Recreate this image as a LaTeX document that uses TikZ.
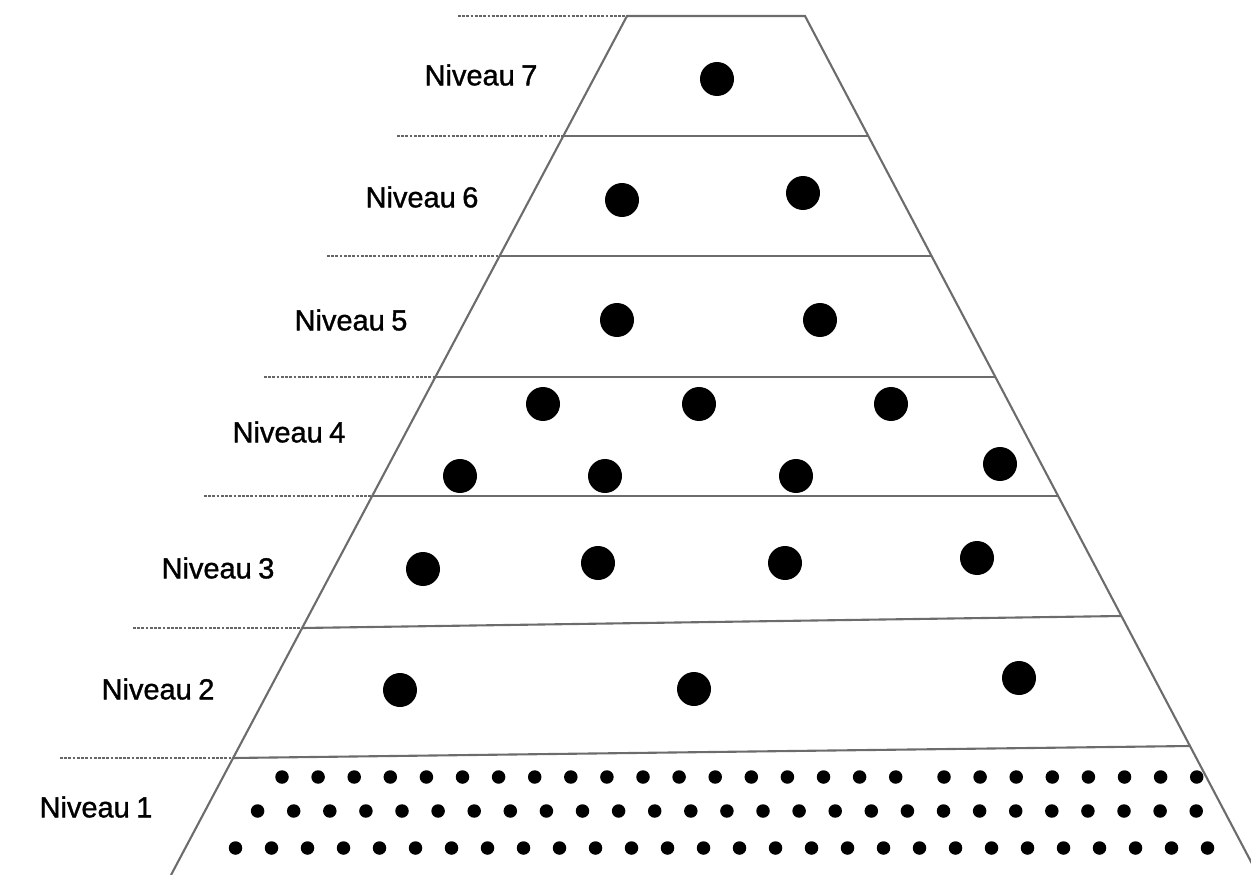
\documentclass[tikz,border=0pt]{standalone}
\usepackage{fontspec}
\setmainfont{Liberation Sans}
\newfontfamily\etiq[FakeBold=1.2,WordSpace=0.8]{Liberation Sans}
\begin{document}
\begin{tikzpicture}[x=0.02cm,y=-0.02cm,
    bord/.style={draw=gray!85!black,line width=1.2pt},
    repere/.style={draw=gray!80!black,line width=0.6pt,dash pattern=on 1.6pt off 0.8pt},
    niveau/.style={font=\etiq\fontsize{16.5}{20}\selectfont,inner sep=0pt},
    bigdot/.style={circle,fill,inner sep=0pt,minimum size=0.68cm},
    smalldot/.style={circle,fill,inner sep=0pt,minimum size=0.27cm}]
        \clip (0,0) rectangle (1251,875);

        % sides of the pyramid
        \draw[bord] (171,875) -- (627,16) -- (805,16) -- (1258,875);

        % level boundaries
        \draw[bord] (563,136) -- (868,136);
        \draw[bord] (500,256) -- (932,256);
        \draw[bord] (436,377) -- (995,377);
        \draw[bord] (372,496) -- (1058,496);
        \draw[bord] (302,628) -- (1121,616);
        \draw[bord] (233,758) -- (1190,746);

        % dashed marks
        \draw[repere] (458,16) -- (627,16);
        \draw[repere] (397,136) -- (563,136);
        \draw[repere] (327,256) -- (500,256);
        \draw[repere] (264,377) -- (436,377);
        \draw[repere] (204,496) -- (372,496);
        \draw[repere] (133,628) -- (302,628);
        \draw[repere] (60,758) -- (233,758);

        \node[niveau] (n7) at (481,75) {Niveau 7};
        \node[niveau] (n6) at (422,197) {Niveau 6};
        \node[niveau] (n5) at (351,320) {Niveau 5};
        \node[niveau] (n4) at (289,432) {Niveau 4};
        \node[niveau] (n3) at (218,568) {Niveau 3};
        \node[niveau] (n2) at (158,689) {Niveau 2};
        \node[niveau] (n1) at (96,807) {Niveau 1};

        % level 7 to 2
        \node[bigdot] (d71) at (717,79) {};
        \node[bigdot] (d61) at (622,200) {};
        \node[bigdot] (d62) at (803,193) {};
        \node[bigdot] (d51) at (617,320) {};
        \node[bigdot] (d52) at (820,320) {};
        \node[bigdot] (d41) at (543,404) {};
        \node[bigdot] (d42) at (699,404) {};
        \node[bigdot] (d43) at (891,404) {};
        \node[bigdot] (d44) at (460,476) {};
        \node[bigdot] (d45) at (605,476) {};
        \node[bigdot] (d46) at (796,476) {};
        \node[bigdot] (d47) at (1000,464) {};
        \node[bigdot] (d31) at (423,569) {};
        \node[bigdot] (d32) at (598,563) {};
        \node[bigdot] (d33) at (785,563) {};
        \node[bigdot] (d34) at (977,558) {};
        \node[bigdot] (d21) at (400,690) {};
        \node[bigdot] (d22) at (694,689) {};
        \node[bigdot] (d23) at (1019,678) {};

        % level 1
        \foreach \i in {0,...,17}
            \node[smalldot] (a\i) at (282+36.1*\i,777) {};
        \foreach \i in {0,...,7}
            \node[smalldot] (b\i) at (944+36.1*\i,777) {};
        \foreach \i in {0,...,26}
            \node[smalldot] (c\i) at (257.6+36.1*\i,811) {};
        \foreach \i in {0,...,27}
            \node[smalldot] (e\i) at (235.5+36*\i,848) {};
    \end{tikzpicture}
\end{document}
